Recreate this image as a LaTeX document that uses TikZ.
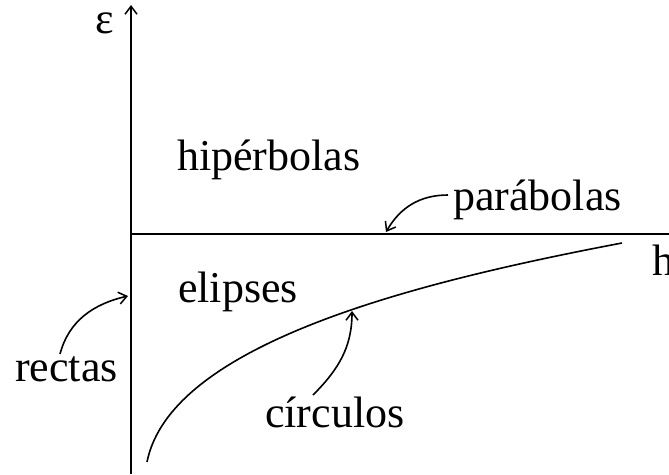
\documentclass[tikz,border=0pt]{standalone}
\usepackage{fontspec}
\setmainfont{Liberation Serif}
\usetikzlibrary{arrows.meta}
\begin{document}
\begin{tikzpicture}[x=1pt,y=1pt,
  lbl/.style={inner sep=0pt,anchor=base west,font=\fontsize{44}{48}\selectfont},
  ax/.style={line width=1.7pt},
  crv/.style={line width=1.6pt},
  tip/.style={-{Straight Barb[length=8pt,width=12pt,line width=1.5pt]}},
  lab/.style={line width=1.6pt,-{Straight Barb[length=8pt,width=12pt,line width=1.5pt]}}]
\useasboundingbox (0,0) rectangle (669,-474);
% axes
\coordinate (o) at (131,-234);
\coordinate (ybot) at (131,-474);
\coordinate (ytop) at (131,-5);
\coordinate (xend) at (672,-234);
\draw[ax,tip] (ybot) -- (ytop);
\draw[ax] (o) -- (xend);
% labels
\node[lbl] (eps) at (95,-33) {ε};
\node[lbl] (hip) at (177,-170) {hipérbolas};
\node[lbl] (par) at (453,-210) {parábolas};
\node[lbl] (h) at (652,-275) {h};
\node[lbl] (eli) at (178,-302) {elipses};
\node[lbl] (rec) at (15,-381) {rectas};
\node[lbl] (cir) at (265,-427) {círculos};
% boundary curve
\coordinate (cs) at (147,-462);
\coordinate (ce) at (622,-243);
\draw[crv] (cs) .. controls (171,-342) and (422,-281) .. (ce);
% pointer arrows
\coordinate (pa0) at (448,-195);
\coordinate (pa1) at (386,-232);
\draw[lab] (pa0) to[out=180,in=60] (pa1);
\coordinate (re0) at (60,-354);
\coordinate (re1) at (128,-296);
\draw[lab] (re0) to[out=75,in=193] (re1);
\coordinate (ci0) at (313,-395);
\coordinate (ci1) at (352,-311);
\draw[lab] (ci0) to[out=45,in=-90] (ci1);
\end{tikzpicture}
\end{document}
